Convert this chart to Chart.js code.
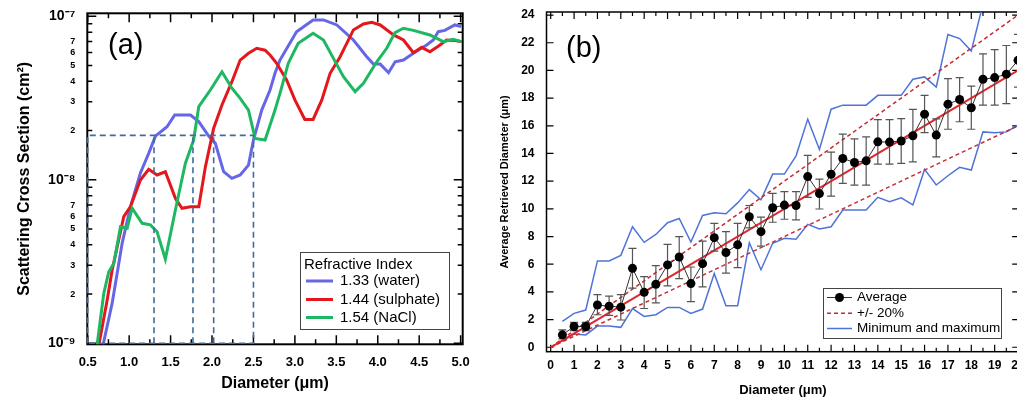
<!DOCTYPE html>
<html>
<head>
<meta charset="utf-8">
<script src="https://cdn.jsdelivr.net/npm/chart.js@4.4.1/dist/chart.umd.min.js"></script>
<style>
    html, body { margin: 0; padding: 0; background: #fff; overflow: hidden; width: 1017px; height: 401px; }
    #chartA { position: absolute; left: 0; top: 0; }
    #chartB { position: absolute; left: 490px; top: 0; }
</style>
</head>
<body>
<canvas id="chartA" width="490" height="401"></canvas>
<canvas id="chartB" width="540" height="401"></canvas>
<script>
// ---- panel (a): scattering cross section (cm2) vs diameter (um) ----

const waterD = [0.68, 0.795, 0.916, 1.016, 1.136, 1.236, 1.317, 1.457, 1.55, 1.74, 1.84, 1.96, 2.04, 2.14, 2.24, 2.34, 2.44, 2.50, 2.60, 2.70, 2.76, 2.82, 3.02, 3.22, 3.345, 3.506, 3.706, 3.867, 3.947, 4.03, 4.13, 4.21, 4.31, 4.43, 4.59, 4.67, 4.73, 4.81, 4.93, 5.01];
const waterS = [0.95e-9, 1.76e-9, 4.1e-9, 6.85e-9, 1.1e-8, 1.45e-8, 1.85e-8, 2.11e-8, 2.49e-8, 2.49e-8, 2.27e-8, 1.85e-8, 1.67e-8, 1.12e-8, 1.02e-8, 1.07e-8, 1.23e-8, 1.75e-8, 2.67e-8, 3.54e-8, 4.48e-8, 5.4e-8, 8.05e-8, 9.5e-8, 9.5e-8, 8.85e-8, 7.16e-8, 5.66e-8, 5.1e-8, 5.1e-8, 4.52e-8, 5.27e-8, 5.4e-8, 5.94e-8, 6.67e-8, 7.16e-8, 8.05e-8, 8.2e-8, 8.85e-8, 8.65e-8];

const sulphD = [0.63, 0.735, 0.795, 0.935, 1.016, 1.136, 1.236, 1.337, 1.437, 1.558, 1.638, 1.74, 1.84, 1.92, 2.02, 2.12, 2.24, 2.34, 2.44, 2.54, 2.64, 2.70, 2.78, 2.90, 3.00, 3.12, 3.22, 3.325, 3.425, 3.546, 3.706, 3.827, 3.927, 4.03, 4.19, 4.31, 4.43, 4.53, 4.63, 4.73, 4.83, 4.93, 5.01];
const sulphS = [0.95e-9, 1.84e-9, 2.81e-9, 5.95e-9, 6.85e-9, 9.97e-9, 1.16e-8, 1.07e-8, 1.12e-8, 7.7e-9, 6.7e-9, 6.85e-9, 6.85e-9, 1.2e-8, 2.07e-8, 2.87e-8, 3.98e-8, 5.4e-8, 5.94e-8, 6.37e-8, 6.2e-8, 5.8e-8, 5.16e-8, 4.08e-8, 3.08e-8, 2.34e-8, 2.34e-8, 3.08e-8, 4.48e-8, 5.66e-8, 8.25e-8, 8.97e-8, 9.2e-8, 8.85e-8, 7.69e-8, 7.16e-8, 5.99e-8, 6.46e-8, 6.07e-8, 6.56e-8, 7.16e-8, 7.1e-8, 7.0e-8];

const naclD = [0.61, 0.694, 0.754, 0.815, 0.895, 0.976, 1.036, 1.157, 1.257, 1.337, 1.437, 1.558, 1.678, 1.778, 1.84, 1.98, 2.12, 2.24, 2.34, 2.44, 2.52, 2.64, 2.70, 2.76, 2.82, 2.92, 3.04, 3.22, 3.345, 3.465, 3.586, 3.727, 3.827, 3.988, 4.108, 4.208, 4.31, 4.43, 4.63, 4.79, 4.91, 5.01];
const naclS = [0.95e-9, 2.02e-9, 2.74e-9, 3.08e-9, 5.16e-9, 5.05e-9, 6.7e-9, 5.42e-9, 5.3e-9, 4.81e-9, 3.27e-9, 6.53e-9, 1.26e-8, 1.75e-8, 2.8e-8, 3.54e-8, 4.58e-8, 3.63e-8, 3.15e-8, 2.67e-8, 1.79e-8, 1.75e-8, 2.16e-8, 2.67e-8, 3.38e-8, 5.16e-8, 6.84e-8, 7.87e-8, 7.16e-8, 5.53e-8, 4.27e-8, 3.46e-8, 3.89e-8, 5.27e-8, 6.37e-8, 7.94e-8, 8.45e-8, 8.2e-8, 7.69e-8, 7.0e-8, 7.23e-8, 7.0e-8];

// dashed box: diameter edges, cross section edges, inner cuts
const boxD = [0.5, 2.5];
const boxS = [1e-9, 1.87e-8];
const cutD = [1.3, 1.77, 2.02];

const xTicksA = [0.5, 1.0, 1.5, 2.0, 2.5, 3.0, 3.5, 4.0, 4.5, 5.0];
const xMinorA = [0.75, 1.25, 1.75, 2.25, 2.75, 3.25, 3.75, 4.25, 4.75];
const yTicksA = [1e-9, 2e-9, 3e-9, 4e-9, 5e-9, 6e-9, 7e-9, 1e-8, 2e-8, 3e-8, 4e-8, 5e-8, 6e-8, 7e-8, 1e-7];
const yLabelsA = ['10⁻⁹', '2', '3', '4', '5', '6', '7', '10⁻⁸', '2', '3', '4', '5', '6', '7', '10⁻⁷'];
const yMajorA = [1e-9, 1e-8, 1e-7];
const yMinorA = [2e-9, 3e-9, 4e-9, 5e-9, 6e-9, 7e-9, 8e-9, 9e-9, 2e-8, 3e-8, 4e-8, 5e-8, 6e-8, 7e-8, 8e-8, 9e-8];

// ---- panel (b): average retrieved diameter vs diameter ----

const diamB = [0.5, 1, 1.5, 2, 2.5, 3, 3.5, 4, 4.5, 5, 5.5, 6, 6.5, 7, 7.5, 8, 8.5, 9, 9.5, 10, 10.5, 11, 11.5, 12, 12.5, 13, 13.5, 14, 14.5, 15, 15.5, 16, 16.5, 17, 17.5, 18, 18.5, 19, 19.5, 20];
const avgB = [0.9, 1.5, 1.5, 3.05, 2.97, 2.9, 5.7, 3.97, 4.55, 5.95, 6.52, 4.6, 6.04, 7.92, 6.85, 7.4, 9.43, 8.35, 10.08, 10.27, 10.24, 12.33, 11.1, 12.5, 13.64, 13.35, 13.47, 14.84, 14.82, 14.9, 15.28, 16.84, 15.33, 17.56, 17.9, 17.3, 19.36, 19.48, 19.73, 20.73];
const avgHi = [1.25, 1.8, 1.8, 3.8, 3.7, 3.8, 7.15, 5.1, 5.9, 7.43, 8.0, 5.8, 7.67, 8.95, 8.35, 8.95, 10.24, 9.4, 11.12, 11.24, 11.24, 13.86, 12.15, 14.1, 15.4, 15.06, 15.2, 16.45, 16.45, 16.52, 17.18, 18.2, 16.5, 19.41, 19.48, 18.86, 21.2, 21.5, 21.8, 22.6];
const avgLo = [0.6, 1.2, 1.2, 2.35, 2.3, 1.97, 4.27, 2.8, 3.2, 4.44, 4.96, 3.3, 4.36, 6.95, 5.35, 5.75, 8.63, 7.3, 9.03, 9.25, 9.2, 10.83, 9.99, 10.92, 11.84, 11.72, 11.72, 13.23, 13.23, 13.28, 13.4, 15.5, 13.76, 15.75, 16.29, 15.75, 17.49, 17.49, 17.6, 18.8];
const maxB = [1.87, 2.45, 2.69, 6.24, 6.24, 6.64, 8.7, 7.58, 8.15, 9.0, 9.3, 7.6, 9.52, 9.71, 9.64, 10.43, 11.39, 10.65, 12.51, 12.51, 13.83, 16.48, 14.29, 17.2, 17.49, 17.49, 17.49, 18.2, 18.2, 18.2, 19.36, 19.53, 18.8, 22.6, 22.3, 21.4, 24.8, null, null, null];
const minB = [0.43, 0.96, 0.89, 1.53, 1.53, 1.44, 2.8, 2.23, 2.35, 2.88, 2.88, 2.45, 2.76, 5.32, 3.0, 3.0, 7.55, 5.6, 7.51, 7.87, 7.8, 8.88, 8.55, 8.71, 9.92, 9.92, 9.92, 10.83, 10.52, 10.8, 10.28, 12.85, 11.72, 12.39, 13.0, 12.8, 15.56, 15.49, 15.56, 16.04];

// 1:1 line and +/- 20 % lines, end points
const refD = [0, 20];
const refOne = [0, 20];
const refPlus = [0, 24];
const refMinus = [0, 16];

const xTicksB = [0, 1, 2, 3, 4, 5, 6, 7, 8, 9, 10, 11, 12, 13, 14, 15, 16, 17, 18, 19, 20];
const xMinorB = [0.5, 1.5, 2.5, 3.5, 4.5, 5.5, 6.5, 7.5, 8.5, 9.5, 10.5, 11.5, 12.5, 13.5, 14.5, 15.5, 16.5, 17.5, 18.5, 19.5];
const yTicksB = [0, 2, 4, 6, 8, 10, 12, 14, 16, 18, 20, 22, 24];

Chart.defaults.font.family = '"Liberation Sans", Arial, sans-serif';
Chart.defaults.color = '#000';

const pairs = (xs, ys) => xs.map((x, i) => ({x: x, y: ys[i]})).filter(p => p.y !== null);

// box frame with inward ticks on all four sides
const frame = {
    id: 'frame',
    beforeDatasetsDraw(chart, args, o) {
        const {ctx, chartArea: a, scales: {x, y}} = chart;
        ctx.save();
        ctx.strokeStyle = '#000';
        ctx.lineWidth = o.width;
        ctx.strokeRect(a.left, a.top, a.right - a.left, a.bottom - a.top);
        ctx.lineWidth = o.tickWidth;
        ctx.beginPath();
        const xt = (vals, len) => vals.forEach(v => {
            const p = x.getPixelForValue(v);
            ctx.moveTo(p, a.bottom); ctx.lineTo(p, a.bottom - len);
            ctx.moveTo(p, a.top); ctx.lineTo(p, a.top + len);
        });
        const yt = (vals, len) => vals.forEach(v => {
            const p = y.getPixelForValue(v);
            ctx.moveTo(a.left, p); ctx.lineTo(a.left + len, p);
            ctx.moveTo(a.right, p); ctx.lineTo(a.right - len, p);
        });
        xt(o.xMajor, o.majorLen);
        xt(o.xMinor, o.minorLen);
        yt(o.yMajor, o.majorLen);
        yt(o.yMinor, o.minorLen);
        ctx.stroke();
        ctx.restore();
    }
};

// legend box + panel tag drawn inside the plot
const boxLegend = {
    id: 'boxLegend',
    afterDraw(chart, args, o) {
        const ctx = chart.ctx;
        ctx.save();
        ctx.fillStyle = '#fff';
        ctx.fillRect(o.x, o.y, o.w, o.h);
        ctx.strokeStyle = '#444';
        ctx.lineWidth = 1;
        ctx.strokeRect(o.x + 0.5, o.y + 0.5, o.w, o.h);
        ctx.font = o.font;
        ctx.textBaseline = 'middle';
        ctx.fillStyle = '#000';
        if (o.title) ctx.fillText(o.title, o.x + 4, o.titleY);
        o.items.forEach((it, i) => {
            const ds = chart.data.datasets[it];
            const yy = o.rowY[i];
            ctx.strokeStyle = ds.borderColor;
            ctx.lineWidth = ds.borderWidth;
            ctx.setLineDash(ds.borderDash || []);
            ctx.beginPath();
            ctx.moveTo(o.x + o.lineX0, yy);
            ctx.lineTo(o.x + o.lineX1, yy);
            ctx.stroke();
            ctx.setLineDash([]);
            if (ds.pointRadius) {
                ctx.fillStyle = ds.pointBackgroundColor;
                ctx.beginPath();
                ctx.arc(o.x + (o.lineX0 + o.lineX1) / 2, yy, ds.pointRadius, 0, Math.PI * 2);
                ctx.fill();
            }
            ctx.fillStyle = '#000';
            ctx.fillText(ds.label, o.x + o.textX, yy);
        });
        ctx.font = o.tagFont;
        ctx.fillText(o.tag, o.tagX, o.tagY);
        ctx.restore();
    }
};

// vertical error bars on the Average series, drawn just before it
const errorBars = {
    id: 'errorBars',
    beforeDatasetDraw(chart, args, o) {
        if (args.index !== 0) return;
        const {ctx, scales: {x, y}} = chart;
        ctx.save();
        ctx.strokeStyle = o.color;
        ctx.lineWidth = o.width;
        ctx.beginPath();
        diamB.forEach((d, i) => {
            const px = x.getPixelForValue(d);
            const hi = y.getPixelForValue(avgHi[i]);
            const lo = y.getPixelForValue(avgLo[i]);
            ctx.moveTo(px, hi); ctx.lineTo(px, lo);
            ctx.moveTo(px - o.cap, hi); ctx.lineTo(px + o.cap, hi);
            ctx.moveTo(px - o.cap, lo); ctx.lineTo(px + o.cap, lo);
        });
        ctx.stroke();
        ctx.restore();
    }
};

const dashBlue = {borderColor: '#3f6d9b', borderWidth: 1.6, borderDash: [6, 4], pointRadius: 0, clip: false};

let chartA = new Chart(document.getElementById('chartA'), {
    type: 'line',
    data: {
        datasets: [
            Object.assign({label: 'box', data: [
                {x: boxD[0], y: boxS[0]}, {x: boxD[0], y: boxS[1]}, {x: boxD[1], y: boxS[1]},
                {x: boxD[1], y: boxS[0]}, {x: boxD[0], y: boxS[0]}]}, dashBlue),
            Object.assign({label: 'cut1', data: pairs([cutD[0], cutD[0]], boxS)}, dashBlue),
            Object.assign({label: 'cut2', data: pairs([cutD[1], cutD[1]], boxS)}, dashBlue),
            Object.assign({label: 'cut3', data: pairs([cutD[2], cutD[2]], boxS)}, dashBlue),
            {label: '1.54 (NaCl)', data: pairs(naclD, naclS), borderColor: '#1fb862', borderWidth: 3, pointRadius: 0},
            {label: '1.44 (sulphate)', data: pairs(sulphD, sulphS), borderColor: '#e3171c', borderWidth: 3, pointRadius: 0},
            {label: '1.33 (water)', data: pairs(waterD, waterS), borderColor: '#6666e6', borderWidth: 3, pointRadius: 0}
        ]
    },
    options: {
        responsive: false,
        animation: false,
        layout: {padding: {left: 0, right: 27.3, top: 13.3, bottom: 0}},
        plugins: {
            legend: {display: false},
            tooltip: {enabled: false},
            frame: {width: 2, tickWidth: 1.5, majorLen: 9, minorLen: 5,
                xMajor: xTicksA, xMinor: xMinorA, yMajor: yMajorA, yMinor: yMinorA},
            boxLegend: {x: 300, y: 252, w: 149, h: 77, font: '15px "Liberation Sans", Arial, sans-serif',
                title: 'Refractive Index', titleY: 265, items: [6, 5, 4], rowY: [281, 299.5, 317.5],
                lineX0: 6, lineX1: 33, textX: 40,
                tag: '(a)', tagX: 108, tagY: 46, tagFont: '29px "Liberation Sans", Arial, sans-serif'}
        },
        scales: {
            x: {
                type: 'linear', min: 0.495, max: 5.025,
                grid: {display: false}, border: {display: false},
                afterBuildTicks: s => { s.ticks = xTicksA.map(v => ({value: v})); },
                afterFit: s => { s.height = 56.7; },
                ticks: {autoSkip: false, maxRotation: 0, padding: 2,
                    font: {size: 13, weight: 'bold'}, callback: v => v.toFixed(1)},
                title: {display: true, text: 'Diameter (μm)', font: {size: 16, weight: 'bold'},
                    padding: {top: 0, bottom: 8}}
            },
            y: {
                type: 'logarithmic', min: 0.986e-9, max: 1.043e-7,
                grid: {display: false}, border: {display: false},
                afterBuildTicks: s => { s.ticks = yTicksA.map(v => ({value: v})); },
                afterFit: s => { s.width = 87.3; },
                ticks: {autoSkip: false, padding: 4,
                    font: c => ({size: yMajorA.includes(c.tick.value) ? 14 : 9, weight: 'bold'}),
                    callback: (v, i) => yLabelsA[i]},
                title: {display: true, text: 'Scattering Cross Section (cm²)', font: {size: 16, weight: 'bold'},
                    padding: {top: 15.4, bottom: 0}}
            }
        }
    },
    plugins: [frame, boxLegend]
});

let chartB = new Chart(document.getElementById('chartB'), {
    type: 'line',
    data: {
        datasets: [
            {label: 'Average', data: pairs(diamB, avgB), borderColor: '#333', borderWidth: 1,
                pointRadius: 4.5, pointBackgroundColor: '#000', pointBorderColor: '#000', pointBorderWidth: 0},
            {label: '1:1', data: pairs(refD, refOne), borderColor: '#e1262c', borderWidth: 2, pointRadius: 0},
            {label: '+/- 20%', data: pairs(refD, refPlus), borderColor: '#c42a30', borderWidth: 1.5, borderDash: [4, 3], pointRadius: 0},
            {label: '-20%', data: pairs(refD, refMinus), borderColor: '#c42a30', borderWidth: 1.5, borderDash: [4, 3], pointRadius: 0},
            {label: 'Minimum and maximum', data: pairs(diamB, maxB), borderColor: '#4f73d8', borderWidth: 1.5, pointRadius: 0},
            {label: 'Minimum', data: pairs(diamB, minB), borderColor: '#4f73d8', borderWidth: 1.5, pointRadius: 0}
        ]
    },
    options: {
        responsive: false,
        animation: false,
        layout: {padding: {left: 0, right: 10.8, top: 12, bottom: 0}},
        plugins: {
            legend: {display: false},
            tooltip: {enabled: false},
            frame: {width: 1.5, tickWidth: 1.2, majorLen: 7, minorLen: 4,
                xMajor: xTicksB, xMinor: xMinorB, yMajor: yTicksB, yMinor: []},
            errorBars: {color: '#555', width: 1.2, cap: 4},
            boxLegend: {x: 333, y: 288, w: 178, h: 50, font: '13.5px "Liberation Sans", Arial, sans-serif',
                title: '', titleY: 0, items: [0, 2, 4], rowY: [297.5, 313.3, 328.5],
                lineX0: 4, lineX1: 29, textX: 34,
                tag: '(b)', tagX: 76, tagY: 49, tagFont: '29px "Liberation Sans", Arial, sans-serif'}
        },
        scales: {
            x: {
                type: 'linear', min: -0.18, max: 20.05,
                grid: {display: false}, border: {display: false},
                afterBuildTicks: s => { s.ticks = xTicksB.map(v => ({value: v})); },
                afterFit: s => { s.height = 49.3; },
                ticks: {autoSkip: false, maxRotation: 0, padding: -1, font: {size: 12, weight: 'bold'}},
                title: {display: true, text: 'Diameter (μm)', font: {size: 13, weight: 'bold'},
                    padding: {top: 0, bottom: 3.2}}
            },
            y: {
                type: 'linear', min: -0.32, max: 24.22,
                grid: {display: false}, border: {display: false},
                afterBuildTicks: s => { s.ticks = yTicksB.map(v => ({value: v})); },
                afterFit: s => { s.width = 56.5; },
                ticks: {autoSkip: false, padding: 4, font: {size: 12, weight: 'bold'}},
                title: {display: true, text: 'Average Retrieved Diameter (μm)', font: {size: 11, weight: 'bold'},
                    padding: {top: 8.4, bottom: 0}}
            }
        }
    },
    plugins: [frame, errorBars, boxLegend]
});
</script>
</body>
</html>
